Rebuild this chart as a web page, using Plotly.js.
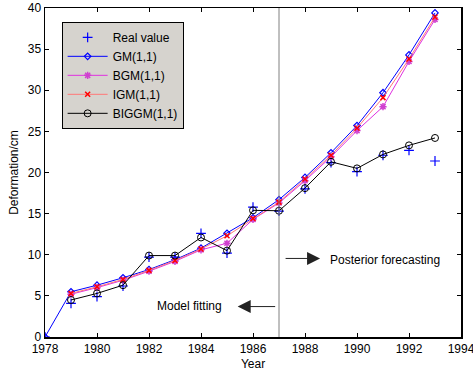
<!DOCTYPE html>
<html>
<head>
<meta charset="utf-8">
<script src="https://cdn.plot.ly/plotly-3.0.1.min.js"></script>
<style>html,body{margin:0;padding:0;background:#fff;}#chart{width:473px;height:371px;}</style>
</head>
<body>
<div id="chart"></div>
<script>
var years = [1978,1979,1980,1981,1982,1983,1984,1985,1986,1987,1988,1989,1990,1991,1992,1993];
var yearsFit = [1979,1980,1981,1982,1983,1984,1985,1986,1987,1988,1989,1990,1991,1992,1993];
var realValue = [0,4.1,4.9,6.2,9.7,9.7,12.6,10.2,15.8,15.3,18.0,21.2,20.1,22.1,22.7,21.4];
var gm = [0,5.5,6.3,7.2,8.2,9.4,10.8,12.6,14.5,16.7,19.4,22.4,25.7,29.7,34.3,39.4];
var bgm = [5.2,6.0,6.9,8.0,9.2,10.6,11.4,14.3,16.3,19.0,21.9,25.1,28.0,33.5,38.6];
var igm = [5.3,6.1,7.0,8.1,9.3,10.7,12.3,14.4,16.4,19.2,22.1,25.4,29.1,33.8,38.9];
var biggm = [4.5,5.3,6.3,9.9,9.9,12.1,10.5,15.4,15.35,18.1,21.3,20.5,22.2,23.3,24.2];
var xTicks = [1978,1980,1982,1984,1986,1988,1990,1992,1994];
var yTicks = [0,5,10,15,20,25,30,35,40];

var font = {family: '"Liberation Sans", Arial, sans-serif', size: 12, color: '#000'};

var traces = [
  {x: years, y: realValue, name: 'Real value', mode: 'markers', type: 'scatter',
   marker: {symbol: 'cross-thin-open', size: 7, color: '#0000ff', line: {color: '#0000ff', width: 1.2}}},
  {x: years, y: gm, name: 'GM(1,1)', mode: 'lines+markers', type: 'scatter',
   line: {color: '#0000ff', width: 1},
   marker: {symbol: 'diamond-open', size: 5, color: '#0000ff', line: {color: '#0000ff', width: 1.2}}},
  {x: yearsFit, y: bgm, name: 'BGM(1,1)', mode: 'lines+markers', type: 'scatter',
   line: {color: '#e030e0', width: 1},
   marker: {symbol: 'asterisk-open', size: 6, color: '#d040d0', line: {color: '#d040d0', width: 1.5}}},
  {x: yearsFit, y: igm, name: 'IGM(1,1)', mode: 'lines+markers', type: 'scatter',
   line: {color: '#ff7878', width: 1},
   marker: {symbol: 'x-thin-open', size: 5, color: '#ff0000', line: {color: '#ff0000', width: 1.5}}},
  {x: yearsFit, y: biggm, name: 'BIGGM(1,1)', mode: 'lines+markers', type: 'scatter',
   line: {color: '#000000', width: 1},
   marker: {symbol: 'circle-open', size: 7, color: '#000000', line: {color: '#000000', width: 1}}}
];

var layout = {
  width: 473, height: 371,
  margin: {l: 45, r: 12, t: 8, b: 34},
  paper_bgcolor: '#fff', plot_bgcolor: '#fff',
  font: font,
  showlegend: true,
  legend: {x: 0.04, y: 0.958, xanchor: 'left', yanchor: 'top',
    bgcolor: '#d6d3ce', bordercolor: '#000', borderwidth: 1,
    font: font, itemwidth: 40, tracegroupgap: 0},
  xaxis: {range: [1978, 1994], tickvals: xTicks, ticktext: xTicks.map(String),
    ticks: 'inside', ticklen: 4, tickwidth: 1, tickcolor: '#000',
    showline: true, linecolor: '#000', linewidth: 1.5, mirror: 'ticks',
    showgrid: false, zeroline: false, tickfont: font, ticklabeloverflow: 'allow',
    title: {text: 'Year', font: font, standoff: 4}},
  yaxis: {range: [0, 40], tickvals: yTicks,
    ticks: 'inside', ticklen: 4, tickwidth: 1, tickcolor: '#000',
    showline: true, linecolor: '#000', linewidth: 1.5, mirror: 'ticks',
    showgrid: false, zeroline: false, tickfont: font, ticklabeloverflow: 'allow',
    title: {text: 'Deformation/cm', font: font, standoff: 6}},
  shapes: [
    {type: 'line', xref: 'x', yref: 'paper', x0: 1987, x1: 1987, y0: 0, y1: 1,
     line: {color: '#808080', width: 1}}
  ],
  annotations: [
    {x: 1988.87, y: 9.4, xref: 'x', yref: 'y', text: 'Posterior forecasting', showarrow: false,
     xanchor: 'left', yanchor: 'middle', font: font},
    {x: 1988.58, y: 9.55, xref: 'x', yref: 'y', text: '', showarrow: true,
     ax: -36, ay: 0, axref: 'pixel', ayref: 'pixel', arrowhead: 2, arrowsize: 2.6, arrowwidth: 1, arrowcolor: '#222'},
    {x: 1984.88, y: 3.73, xref: 'x', yref: 'y', text: 'Model fitting', showarrow: false,
     xanchor: 'right', yanchor: 'middle', font: font},
    {x: 1985.41, y: 3.7, xref: 'x', yref: 'y', text: '', showarrow: true,
     ax: 39, ay: 0, axref: 'pixel', ayref: 'pixel', arrowhead: 2, arrowsize: 2.6, arrowwidth: 1, arrowcolor: '#222'}
  ]
};

Plotly.newPlot('chart', traces, layout, {displayModeBar: false, staticPlot: true});
</script>
</body>
</html>
